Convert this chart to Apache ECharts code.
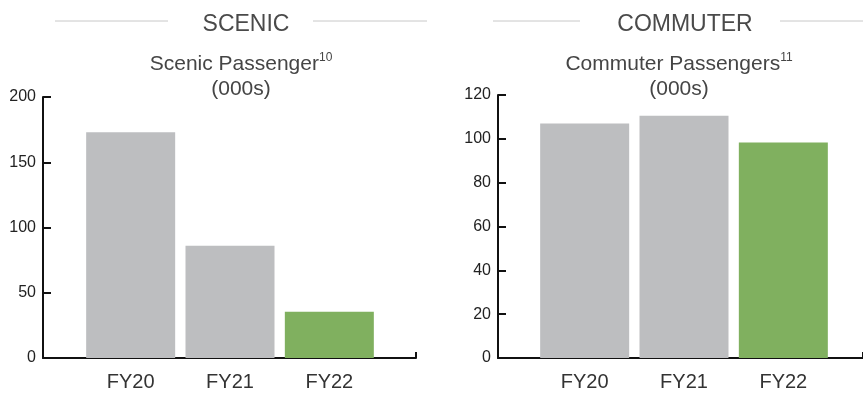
<!DOCTYPE html>
<html>
<head>
<meta charset="utf-8">
<script src="https://cdn.jsdelivr.net/npm/echarts@6/dist/echarts.min.js"></script>
<style>
  html, body { margin: 0; padding: 0; background: #fff; }
  #chart { width: 863px; height: 396px; }
</style>
</head>
<body>
<div id="chart"></div>
<script>
// Fiscal years shown on both panels
const years = ['FY20', 'FY21', 'FY22'];

// Scenic passengers (000s)
const scenicValues = [173, 86, 35.5];
const scenicTicks = { min: 0, max: 200, interval: 50 };

// Commuter passengers (000s)
const commuterValues = [107, 110.5, 98.3];
const commuterTicks = { min: 0, max: 120, interval: 20 };

const GREY = '#bdbec0';
const GREEN = '#80b05f';
const FONT = 'Liberation Sans, Arial, sans-serif';

// last year highlighted in green, earlier years in grey
function coloured(values) {
  return values.map((v, i) => ({
    value: v,
    itemStyle: { color: i === values.length - 1 ? GREEN : GREY }
  }));
}

const chart = echarts.init(document.getElementById('chart'));

const axisLineStyle = { color: '#111', width: 2 };

function valueAxis(gridIndex, ticks, offset) {
  return {
    type: 'value', gridIndex, min: ticks.min, max: ticks.max, interval: ticks.interval,
    offset,
    axisLine: { show: true, lineStyle: axisLineStyle },
    axisTick: { show: true, inside: true, length: 8, lineStyle: axisLineStyle },
    axisLabel: { fontSize: 16, color: '#222', fontFamily: FONT, margin: 7 },
    splitLine: { show: false }
  };
}

function categoryAxis(gridIndex) {
  return {
    type: 'category', gridIndex, data: years,
    axisLine: { show: false }, axisTick: { show: false },
    axisLabel: { fontSize: 20, color: '#333', fontFamily: FONT, margin: 14 }
  };
}

// plain baseline running the full width of a panel, with an end tick
function baselineAxis(gridIndex) {
  return {
    type: 'value', gridIndex, min: 0, max: 1, interval: 1,
    axisLine: { show: true, lineStyle: axisLineStyle },
    axisTick: { show: true, inside: true, length: 6, lineStyle: axisLineStyle },
    axisLabel: { show: false }, splitLine: { show: false }
  };
}
function hiddenAxis(gridIndex) {
  return { type: 'value', gridIndex, show: false, min: 0, max: 1 };
}

const titleText = (name, sup) => ({
  text: name + '{sup|' + sup + '}\n(000s)',
  textStyle: {
    fontSize: 21, color: '#454545', fontFamily: FONT, fontWeight: 'normal', lineHeight: 25,
    rich: { sup: { fontSize: 12, color: '#454545', fontFamily: FONT, verticalAlign: 'top', lineHeight: 25, padding: [0, 0, 8, 0] } }
  }
});

const header = (text, x) => ({
  text,
  left: x, top: 8, textAlign: 'center',
  textStyle: { fontSize: 23, color: '#4a4a4a', fontFamily: FONT, fontWeight: 'normal' }
});

chart.setOption({
  animation: false,
  title: [
    header('SCENIC', 241),
    header('COMMUTER', 680),
    Object.assign(titleText('Scenic Passenger', '10'), { left: 236, top: 47, textAlign: 'center' }),
    Object.assign(titleText('Commuter Passengers', '11'), { left: 674, top: 47, textAlign: 'center' })
  ],
  graphic: [
    { type: 'line', shape: { x1: 55, y1: 21, x2: 168, y2: 21 }, style: { stroke: '#c8c8c8', lineWidth: 1 } },
    { type: 'line', shape: { x1: 313, y1: 21, x2: 427, y2: 21 }, style: { stroke: '#c8c8c8', lineWidth: 1 } },
    { type: 'line', shape: { x1: 493, y1: 21, x2: 580, y2: 21 }, style: { stroke: '#c8c8c8', lineWidth: 1 } },
    { type: 'line', shape: { x1: 780, y1: 21, x2: 863, y2: 21 }, style: { stroke: '#c8c8c8', lineWidth: 1 } }
  ],
  grid: [
    { left: 81, top: 97, width: 298, height: 261 },
    { left: 43, top: 97, width: 373, height: 261 },
    { left: 535, top: 95, width: 298, height: 263 },
    { left: 498, top: 95, width: 380, height: 263 }
  ],
  xAxis: [categoryAxis(0), baselineAxis(1), categoryAxis(2), baselineAxis(3)],
  yAxis: [
    valueAxis(0, scenicTicks, 38), hiddenAxis(1),
    valueAxis(2, commuterTicks, 37), hiddenAxis(3)
  ],
  series: [
    { type: 'bar', xAxisIndex: 0, yAxisIndex: 0, barWidth: 89, data: coloured(scenicValues) },
    { type: 'bar', xAxisIndex: 2, yAxisIndex: 2, barWidth: 89, data: coloured(commuterValues) }
  ]
});
</script>
</body>
</html>
